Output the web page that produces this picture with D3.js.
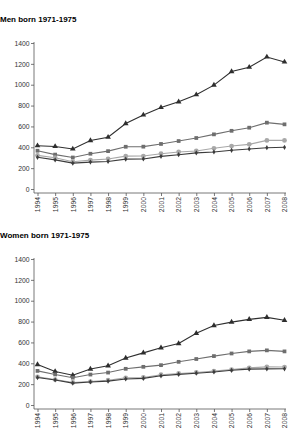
<!DOCTYPE html>
<html>
<head>
<meta charset="utf-8">
<script src="https://cdn.jsdelivr.net/npm/d3@7"></script>
<style>
  body { margin: 0; background: #fff; }
  text { font-family: "Liberation Sans", Arial, sans-serif; }
  .title { font-size: 8px; font-weight: bold; fill: #000; }
  .axis text { font-size: 6.8px; fill: #333; }
  .axis path, .axis line { stroke: #555; stroke-width: 0.8; }
</style>
</head>
<body>
<div id="chart"></div>
<script>
// data
const years = [1994, 1995, 1996, 1997, 1998, 1999, 2000, 2001, 2002, 2003, 2004, 2005, 2006, 2007, 2008];
const yTicks = [0, 200, 400, 600, 800, 1000, 1200, 1400];

const menA = [415, 408, 384, 465, 497, 628, 710, 782, 836, 904, 996, 1126, 1168, 1266, 1218];
const menB = [367, 330, 302, 338, 363, 405, 406, 432, 460, 489, 524, 558, 588, 636, 620];
const menC = [322, 300, 262, 277, 288, 315, 316, 338, 355, 365, 390, 412, 428, 466, 466];
const menD = [304, 279, 248, 258, 264, 286, 288, 313, 329, 346, 355, 371, 384, 396, 400];

const womenA = [388, 322, 286, 345, 376, 450, 500, 549, 589, 688, 762, 795, 821, 840, 812];
const womenB = [327, 293, 262, 292, 311, 347, 366, 382, 414, 441, 469, 494, 514, 524, 514];
const womenC = [270, 244, 216, 225, 238, 261, 264, 290, 302, 312, 325, 340, 356, 366, 364];
const womenD = [263, 240, 210, 221, 229, 250, 255, 280, 294, 305, 317, 333, 344, 346, 347];

const width = 291, height = 440;

const svg = d3.select("#chart")
    .append("svg")
    .attr("width", width)
    .attr("height", height)
    .attr("viewBox", [0, 0, width, height]);

// series look: colour + marker
const styles = [
    { color: "#2e2e2e", symbol: d3.symbolTriangle, size: 14 },
    { color: "#6e6e6e", symbol: d3.symbolSquare, size: 14 },
    { color: "#a8a8a8", symbol: d3.symbolCircle, size: 18 },
    { color: "#3c3c3c", symbol: d3.symbolDiamond, size: 8 }
];

function panel(title, top, series) {
    const g = svg.append("g");
    const plotTop = top + 21, plotBottom = top + 167, axisY = top + 171;
    const left = 34, right = 286;

    g.append("text")
      .attr("class", "title")
      .attr("x", 0)
      .attr("y", top)
      .text(title);

    let x = d3.scalePoint()
        .domain(years)
        .range([37.5, 284.5]);

    let y = d3.scaleLinear()
        .domain([0, 1400])
        .range([plotBottom, plotTop]);

    // x axis, a bit below the zero line
    const xa = g.append("g")
      .attr("class", "axis")
      .attr("transform", `translate(0,${axisY})`)
      .call(d3.axisBottom(x).tickSize(3).tickSizeOuter(0).tickPadding(2));
    xa.select(".domain").attr("d", `M${left},0H${right}`);
    xa.selectAll("text")
      .attr("transform", "rotate(-90)")
      .attr("text-anchor", "end")
      .attr("x", -4)
      .attr("y", 0)
      .attr("dy", "0.33em");

    const ya = g.append("g")
      .attr("class", "axis")
      .attr("transform", `translate(${left},0)`)
      .call(d3.axisLeft(y).tickValues(yTicks).tickFormat(d3.format("d")).tickSize(3).tickPadding(1.5));
    ya.select(".domain").attr("d", `M0,${plotTop - 1}V${axisY}`);

    let line = d3.line()
        .x((d, i) => x(years[i]))
        .y(d => y(d));

    series.forEach((vals, k) => {
        const s = styles[k];
        g.append("path")
          .datum(vals)
          .attr("d", line)
          .attr("fill", "none")
          .attr("stroke", s.color)
          .attr("stroke-width", 1.1);

        g.selectAll(null)
          .data(vals)
          .join("path")
          .attr("transform", (d, i) => `translate(${x(years[i])},${y(d)})`)
          .attr("d", d3.symbol(s.symbol, s.size))
          .attr("fill", s.color);
    });
}

panel("Men born 1971-1975", 22, [menA, menB, menC, menD]);
panel("Women born 1971-1975", 238, [womenA, womenB, womenC, womenD]);
</script>
</body>
</html>
